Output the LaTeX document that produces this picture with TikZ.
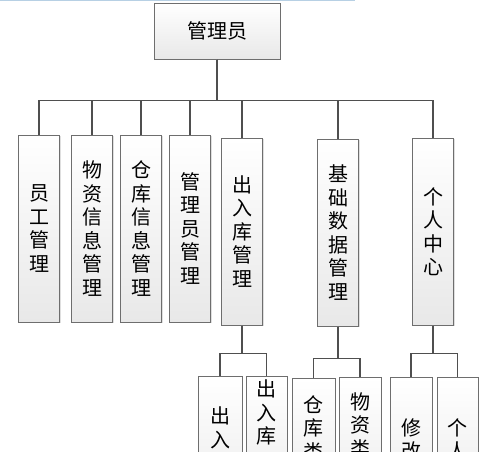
\documentclass[tikz,border=0pt]{standalone}
\usepackage{fontspec}
\newfontfamily\cjk{Noto Sans CJK SC}
\usepackage{tikz}
\usetikzlibrary{positioning, shadows}

\definecolor{boxline}{HTML}{6E6E6E}
\definecolor{linkline}{HTML}{4F4F4F}
\definecolor{topline}{HTML}{B7D0E4}

\tikzset{
    box/.style={draw=boxline, line width=1pt, top color=white, bottom color=black!9,
        inner sep=0pt, drop shadow={shadow xshift=1.2pt, shadow yshift=-1.2pt, opacity=0.25}},
    vtext/.style={font=\cjk\fontsize{20}{23.5}\selectfont, align=center, inner sep=0pt},
    link/.style={draw=linkline, line width=1.3pt}
}

\begin{document}
\begin{tikzpicture}[x=1pt, y=-1pt]
    \useasboundingbox (0,0) rectangle (500,451);
    \clip (0,0) rectangle (500,451);

    \draw[topline, line width=1.5pt] (0,0.5) -- (355,0.5);

    % top
    \node[box, minimum width=126pt, minimum height=56pt,
          font=\cjk\fontsize{20}{24}\selectfont] (root) at (217,31) {管理员};

    % modules
    \node[box, vtext, minimum width=41pt, minimum height=187pt] (m1) at (39,228.5) {员\\工\\管\\理};
    \node[box, vtext, minimum width=41pt, minimum height=187pt] (m2) at (92,228.5) {物\\资\\信\\息\\管\\理};
    \node[box, vtext, minimum width=41pt, minimum height=187pt] (m3) at (141,228.5) {仓\\库\\信\\息\\管\\理};
    \node[box, vtext, minimum width=41pt, minimum height=187pt] (m4) at (190,228.5) {管\\理\\员\\管\\理};
    \node[box, vtext, minimum width=41pt, minimum height=187pt] (m5) at (242,231.5) {出\\入\\库\\管\\理};
    \node[box, vtext, minimum width=41pt, minimum height=187pt] (m6) at (338,232.5) {基\\础\\数\\据\\管\\理};
    \node[box, vtext, minimum width=41pt, minimum height=187pt] (m7) at (433,231.5) {个\\人\\中\\心};

    \foreach \m in {m1,m2,m3,m4,m5,m6,m7}
        \draw[link] (root.south) -- ++(0,41) -| (\m.north);

    % sub modules
    \node[box, anchor=north, minimum width=44pt, minimum height=150pt] (s1) at (220,376) {};
    \node[box, anchor=north, minimum width=41pt, minimum height=150pt] (s2) at (266.5,376) {};
    \node[box, anchor=north, minimum width=43pt, minimum height=150pt] (s3) at (313.5,378) {};
    \node[box, anchor=north, minimum width=42pt, minimum height=150pt] (s4) at (360,377) {};
    \node[box, anchor=north, minimum width=42pt, minimum height=150pt] (s5) at (411,377) {};
    \node[box, anchor=north, minimum width=41pt, minimum height=150pt] (s6) at (457.5,377) {};

    \node[vtext, below=31pt of s1.north] (t1) {出\\入};
    \node[vtext, below=4pt of s2.north] (t2) {出\\入\\库};
    \node[vtext, below=17pt of s3.north] (t3) {仓\\库\\类};
    \node[vtext, below=15pt of s4.north] (t4) {物\\资\\类};
    \node[vtext, below=41pt of s5.north] (t5) {修\\改};
    \node[vtext, below=41pt of s6.north] (t6) {个\\人};

    \foreach \s in {s1,s2}
        \draw[link] (m5.south) -- ++(0,28) -| (\s.north);
    \foreach \s in {s3,s4}
        \draw[link] (m6.south) -- ++(0,32) -| (\s.north);
    \foreach \s in {s5,s6}
        \draw[link] (m7.south) -- ++(0,28) -| (\s.north);
\end{tikzpicture}
\end{document}
